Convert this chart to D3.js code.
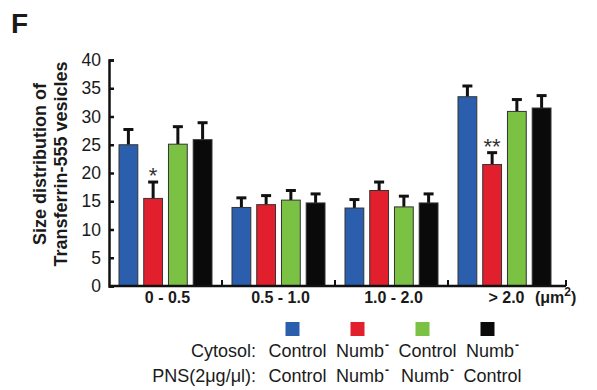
<html>
<head>
    <script src="https://d3js.org/d3.v7.min.js"></script>
    <style>
        body { margin: 0; background: #fff; }
        text { font-family: Arial, "Liberation Sans", sans-serif; fill: #1a1a1a; }
    </style>
</head>
<body>
    <svg width="597" height="390"></svg>
    <script>
        // data
        var groups = ['0 - 0.5', '0.5 - 1.0', '1.0 - 2.0', '> 2.0']
        var series = ['ctrl/ctrl', 'numb/numb', 'ctrl/numb', 'numb/ctrl']
        var colors = ['#2b5fae', '#e2202d', '#7bc143', '#0a0a0a']
        var means = [
            [25.0, 15.5, 25.1, 25.9],
            [13.9, 14.4, 15.2, 14.7],
            [13.8, 16.9, 14.0, 14.7],
            [33.5, 21.5, 30.9, 31.5]
        ]
        var errs = [
            [2.7, 2.9, 3.1, 3.0],
            [1.7, 1.6, 1.7, 1.6],
            [1.5, 1.5, 1.9, 1.6],
            [1.9, 2.1, 2.1, 2.2]
        ]
        // significance marks: [group, series, text]
        var stars = [[0, 1, '*'], [3, 1, '**']]
        var yTicks = [0, 5, 10, 15, 20, 25, 30, 35, 40]
        var cytosol = ['Control', 'Numb', 'Control', 'Numb']
        var pns = ['Control', 'Numb', 'Numb', 'Control']

        var svg = d3.select('svg')

        var x0 = d3.scaleBand()
            .domain(groups)
            .range([109, 561])
        var x1 = d3.scaleBand()
            .domain(series)
            .range([10, 103])
            .paddingInner(0.24)
        var y = d3.scaleLinear()
            .domain([0, 40])
            .range([286, 60])
        var xEnd = 566

        // panel letter
        svg.append('text')
            .attr('x', 11).attr('y', 33)
            .style('font-size', '28px').style('font-weight', 'bold')
            .text('F')

        var rows = []
        means.forEach(function(m, gi) {
            m.forEach(function(v, si) {
                rows.push({ g: groups[gi], s: series[si], v: v, e: errs[gi][si], c: colors[si] })
            })
        })
        function cx(d) { return x0(d.g) + x1(d.s) + x1.bandwidth() / 2 }

        // error bars (upper only)
        var eb = svg.append('g').selectAll('g').data(rows).enter().append('g')
        eb.append('line')
            .attr('x1', cx).attr('x2', cx)
            .attr('y1', function(d) { return y(d.v) })
            .attr('y2', function(d) { return y(d.v + d.e) })
            .attr('stroke', '#111').attr('stroke-width', 3)
        eb.append('line')
            .attr('x1', function(d) { return cx(d) - 5 })
            .attr('x2', function(d) { return cx(d) + 5 })
            .attr('y1', function(d) { return y(d.v + d.e) })
            .attr('y2', function(d) { return y(d.v + d.e) })
            .attr('stroke', '#111').attr('stroke-width', 3)

        // bars
        svg.append('g').selectAll('rect').data(rows).enter().append('rect')
            .attr('x', function(d) { return x0(d.g) + x1(d.s) })
            .attr('y', function(d) { return y(d.v) })
            .attr('width', x1.bandwidth())
            .attr('height', function(d) { return y(0) - y(d.v) })
            .attr('fill', function(d) { return d.c })
            .attr('stroke', '#333').attr('stroke-width', 1)

        // stars
        svg.append('g').selectAll('text').data(stars).enter().append('text')
            .attr('x', function(d) { return x0(groups[d[0]]) + x1(series[d[1]]) + x1.bandwidth() / 2 })
            .attr('y', function(d) {
                var gi = d[0], si = d[1]
                return y(means[gi][si] + errs[gi][si]) + 1
            })
            .attr('text-anchor', 'middle')
            .style('font-size', '22px').style('fill', '#333')
            .text(function(d) { return d[2] })

        // y axis
        var yAxis = d3.axisLeft(y)
            .tickValues(yTicks)
            .tickSize(-5)
            .tickSizeOuter(-5)
            .tickPadding(8)
        var gy = svg.append('g')
            .attr('transform', 'translate(109,0)')
            .call(yAxis)
        gy.selectAll('path, line').attr('stroke', '#111').attr('stroke-width', 2.5)
        gy.selectAll('text').style('font-size', '17.5px').style('font-family', 'Arial, "Liberation Sans", sans-serif').attr('fill', '#1a1a1a')

        // x axis line and boundary ticks
        var gx = svg.append('g')
        gx.append('line')
            .attr('x1', 109).attr('x2', xEnd)
            .attr('y1', y(0)).attr('y2', y(0))
            .attr('stroke', '#111').attr('stroke-width', 2.5)
        var bounds = groups.slice(1).map(function(g) { return x0(g) }).concat([xEnd])
        gx.selectAll('line.tk').data(bounds).enter().append('line')
            .attr('class', 'tk')
            .attr('x1', function(d) { return d }).attr('x2', function(d) { return d })
            .attr('y1', y(0)).attr('y2', y(0) - 6)
            .attr('stroke', '#111').attr('stroke-width', 2)
        gx.selectAll('text').data(groups).enter().append('text')
            .attr('x', function(d) { return x0(d) + x0.bandwidth() / 2 + 2 })
            .attr('y', 303)
            .attr('text-anchor', 'middle')
            .style('font-size', '16px').style('font-weight', 'bold')
            .text(function(d) { return d })
        var unit = gx.append('text')
            .attr('x', 535).attr('y', 303)
            .style('font-size', '16px').style('font-weight', 'bold')
        unit.append('tspan').text('(\u03bcm')
        unit.append('tspan').attr('dy', -7).style('font-size', '12px').text('2')
        unit.append('tspan').attr('dy', 7).text(')')

        // y title
        var yt = svg.append('text')
            .attr('transform', 'translate(46,164) rotate(-90)')
            .attr('text-anchor', 'middle')
            .style('font-size', '18px').style('font-weight', 'bold')
        yt.append('tspan').attr('x', 0).attr('dy', 0).text('Size distribution of')
        yt.append('tspan').attr('x', 0).attr('dy', 21).text('Transferrin-555 vesicles')

        // legend
        var lx = d3.scaleBand().domain(series).range([260, 520])
        var lg = svg.append('g')
        lg.selectAll('rect').data(series).enter().append('rect')
            .attr('x', function(d) { return lx(d) + lx.bandwidth() / 2 - 7 })
            .attr('y', 322)
            .attr('width', 14).attr('height', 14)
            .attr('fill', function(d, i) { return colors[i] })

        function labelRow(labels, title, yy) {
            lg.append('text')
                .attr('x', 256).attr('y', yy)
                .attr('text-anchor', 'end')
                .style('font-size', '18px')
                .text(title)
            var t = lg.selectAll(null).data(labels).enter().append('text')
                .attr('x', function(d, i) { return lx(series[i]) + lx.bandwidth() / 2 + 5 })
                .attr('y', yy)
                .attr('text-anchor', 'middle')
                .style('font-size', '18px')
                .text(function(d) { return d })
            t.filter(function(d) { return d === 'Numb' })
                .append('tspan')
                .attr('dx', 1).attr('dy', -8).style('font-size', '12px').style('font-weight', 'bold')
                .text('-')
        }
        labelRow(cytosol, 'Cytosol:', 357)
        labelRow(pns, 'PNS(2\u03bcg/\u03bcl):', 382)
    </script>
</body>
</html>
